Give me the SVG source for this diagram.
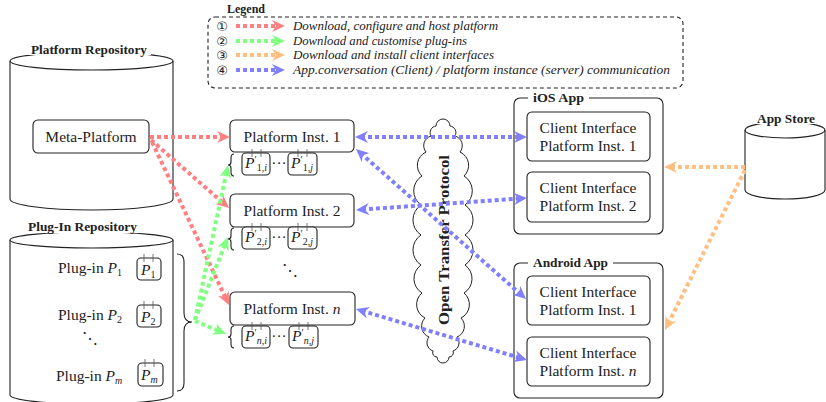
<svg xmlns="http://www.w3.org/2000/svg" width="826" height="402" viewBox="0 0 826 402" font-family="'Liberation Serif', 'DejaVu Serif', serif">
<defs>
<style>
.box{fill:#fff;stroke:#222;stroke-width:1.1}
.cyl{fill:none;stroke:#222;stroke-width:1.1}
.lbl{font-family:'Liberation Serif','DejaVu Serif',serif;font-size:15.5px;fill:#222}
.it{font-style:italic}
.sm{font-size:10px}
.ttl{font-family:'Liberation Serif','DejaVu Serif',serif;font-size:11.5px;font-weight:bold;fill:#222}
.lg{font-family:'Liberation Serif','DejaVu Serif',serif;font-size:11.5px;font-style:italic;fill:#222}
.num{font-family:'DejaVu Sans',sans-serif;font-size:13px;fill:#222}
.tick{stroke:#555;stroke-width:0.8}
.brace{fill:none;stroke:#222;stroke-width:1.1}
.c{fill:none;stroke-width:4;stroke-dasharray:4 3}
.r{stroke:#ff8080}.g{stroke:#80ff80}.o{stroke:#ffbf80}.b{stroke:#8080ff}
</style>
<marker id="mr" viewBox="0 0 13 12" refX="7" refY="6" markerWidth="13" markerHeight="12" markerUnits="userSpaceOnUse" orient="auto-start-reverse"><path d="M0,0 L13,6 L0,12 L4,6 z" fill="#ff8080"/></marker>
<marker id="mg" viewBox="0 0 13 12" refX="7" refY="6" markerWidth="13" markerHeight="12" markerUnits="userSpaceOnUse" orient="auto-start-reverse"><path d="M0,0 L13,6 L0,12 L4,6 z" fill="#80ff80"/></marker>
<marker id="mo" viewBox="0 0 13 12" refX="7" refY="6" markerWidth="13" markerHeight="12" markerUnits="userSpaceOnUse" orient="auto-start-reverse"><path d="M0,0 L13,6 L0,12 L4,6 z" fill="#ffbf80"/></marker>
<marker id="mb" viewBox="0 0 13 12" refX="7" refY="6" markerWidth="13" markerHeight="12" markerUnits="userSpaceOnUse" orient="auto-start-reverse"><path d="M0,0 L13,6 L0,12 L4,6 z" fill="#8080ff"/></marker>
</defs>

<g id="legend">
<rect x="208" y="17" width="475" height="71" rx="7" fill="none" stroke="#222" stroke-width="1.1" stroke-dasharray="4 3"/>
<text class="ttl" x="227" y="13" textLength="38" lengthAdjust="spacingAndGlyphs">Legend</text>
<text class="num" x="222" y="31" text-anchor="middle">①</text>
<text class="num" x="222" y="46" text-anchor="middle">②</text>
<text class="num" x="222" y="60" text-anchor="middle">③</text>
<text class="num" x="222" y="75" text-anchor="middle">④</text>
<line class="c r" x1="236" y1="26" x2="279" y2="26" marker-end="url(#mr)"/>
<line class="c g" x1="236" y1="41" x2="279" y2="41" marker-end="url(#mg)"/>
<line class="c o" x1="236" y1="55" x2="279" y2="55" marker-end="url(#mo)"/>
<line class="c b" x1="236" y1="70" x2="279" y2="70" marker-end="url(#mb)"/>
<text class="lg" x="293" y="30" textLength="205" lengthAdjust="spacingAndGlyphs">Download, configure and host platform</text>
<text class="lg" x="293" y="45" textLength="174" lengthAdjust="spacingAndGlyphs">Download and customise plug-ins</text>
<text class="lg" x="293" y="59" textLength="201" lengthAdjust="spacingAndGlyphs">Download and install client interfaces</text>
<text class="lg" x="293" y="74" textLength="377" lengthAdjust="spacingAndGlyphs">App.conversation (Client) / platform instance (server) communication</text>
</g>

<g id="platform-repository">
<path class="cyl" d="M10,61 L10,199 A81.5,11 0 0 0 173,199 L173,61"/>
<ellipse class="cyl" cx="91.5" cy="61" rx="81.5" ry="9"/>
<rect x="27" y="43" width="124" height="12" fill="#fff"/>
<text class="ttl" x="89" y="54" text-anchor="middle" textLength="116" lengthAdjust="spacingAndGlyphs">Platform Repository</text>
</g>

<g id="meta-platform">
<rect class="box" x="33" y="120" width="116" height="33" rx="5"/>
<text class="lbl" x="91" y="142" text-anchor="middle">Meta-Platform</text>
</g>

<g id="plugin-repository">
<path class="cyl" d="M10,240 L10,395 A81.5,9 0 0 0 173,395 L173,240"/>
<ellipse class="cyl" cx="91.5" cy="240" rx="81.5" ry="8"/>
<rect x="24" y="221" width="118" height="12" fill="#fff"/>
<text class="ttl" x="82.5" y="231" text-anchor="middle" textLength="109" lengthAdjust="spacingAndGlyphs">Plug-In Repository</text>
<text class="lbl" x="58" y="273">Plug-in <tspan class="it">P</tspan><tspan class="sm" dy="3">1</tspan></text>
<text class="lbl" x="58" y="320">Plug-in <tspan class="it">P</tspan><tspan class="sm" dy="3">2</tspan></text>
<text class="lbl" x="90" y="344" text-anchor="middle">⋱</text>
<text class="lbl" x="56" y="381">Plug-in <tspan class="it">P</tspan><tspan class="sm it" dy="3">m</tspan></text>
<rect class="box" x="137" y="258" width="24" height="22" rx="4"/>
<line class="tick" x1="144" y1="254" x2="144" y2="262"/><line class="tick" x1="153" y1="254" x2="153" y2="262"/>
<text class="lbl" x="141" y="275"><tspan class="it">P</tspan><tspan class="sm" dy="3">1</tspan></text>
<rect class="box" x="137" y="305" width="24" height="22" rx="4"/>
<line class="tick" x1="144" y1="301" x2="144" y2="309"/><line class="tick" x1="153" y1="301" x2="153" y2="309"/>
<text class="lbl" x="141" y="322"><tspan class="it">P</tspan><tspan class="sm" dy="3">2</tspan></text>
<rect class="box" x="138" y="363" width="25" height="23" rx="4"/>
<line class="tick" x1="145" y1="359" x2="145" y2="367"/><line class="tick" x1="154" y1="359" x2="154" y2="367"/>
<text class="lbl" x="141" y="380"><tspan class="it">P</tspan><tspan class="sm it" dy="3">m</tspan></text>
<path class="brace" d="M177,254 Q184,254 184,262 L184,313 Q184,322 192,322 Q184,322 184,331 L184,383 Q184,391 177,391"/>
</g>

<g id="platform-inst-1">
<rect class="box" x="230" y="120" width="124" height="32" rx="5"/>
<text class="lbl" x="292" y="142" text-anchor="middle">Platform Inst. 1</text>
<path class="brace" d="M234,154 Q231,154 231,158 L231,162 Q231,165 228,165 Q231,165 231,168 L231,172 Q231,176 234,176"/>
<rect class="box" x="242" y="153" width="28" height="22" rx="4"/>
<line class="tick" x1="252" y1="149" x2="252" y2="157"/><line class="tick" x1="261" y1="149" x2="261" y2="157"/>
<text class="lbl" x="245" y="168"><tspan class="it">P</tspan><tspan class="sm" dy="-5">′</tspan><tspan class="sm" dy="8">1,<tspan class="it">i</tspan></tspan></text>
<text class="lbl" x="279" y="168" text-anchor="middle">···</text>
<rect class="box" x="288" y="153" width="29" height="22" rx="4"/>
<line class="tick" x1="298" y1="149" x2="298" y2="157"/><line class="tick" x1="307" y1="149" x2="307" y2="157"/>
<text class="lbl" x="291" y="168"><tspan class="it">P</tspan><tspan class="sm" dy="-5">′</tspan><tspan class="sm" dy="8">1,<tspan class="it">j</tspan></tspan></text>
</g>

<g id="platform-inst-2">
<rect class="box" x="230" y="194" width="124" height="33" rx="5"/>
<text class="lbl" x="292" y="216" text-anchor="middle">Platform Inst. 2</text>
<path class="brace" d="M234,228 Q231,228 231,232 L231,236 Q231,239 228,239 Q231,239 231,242 L231,246 Q231,250 234,250"/>
<rect class="box" x="242" y="227" width="28" height="22" rx="4"/>
<line class="tick" x1="252" y1="223" x2="252" y2="231"/><line class="tick" x1="261" y1="223" x2="261" y2="231"/>
<text class="lbl" x="245" y="242"><tspan class="it">P</tspan><tspan class="sm" dy="-5">′</tspan><tspan class="sm" dy="8">2,<tspan class="it">i</tspan></tspan></text>
<text class="lbl" x="279" y="242" text-anchor="middle">···</text>
<rect class="box" x="288" y="227" width="29" height="22" rx="4"/>
<line class="tick" x1="298" y1="223" x2="298" y2="231"/><line class="tick" x1="307" y1="223" x2="307" y2="231"/>
<text class="lbl" x="291" y="242"><tspan class="it">P</tspan><tspan class="sm" dy="-5">′</tspan><tspan class="sm" dy="8">2,<tspan class="it">j</tspan></tspan></text>
</g>

<text class="lbl" x="290" y="276" text-anchor="middle">⋱</text>

<g id="platform-inst-n">
<rect class="box" x="230" y="292" width="125" height="33" rx="5"/>
<text class="lbl" x="292" y="314" text-anchor="middle">Platform Inst. <tspan class="it">n</tspan></text>
<path class="brace" d="M234,326 Q231,326 231,330 L231,334 Q231,337 228,337 Q231,337 231,340 L231,344 Q231,348 234,348"/>
<rect class="box" x="242" y="326" width="28" height="22" rx="4"/>
<line class="tick" x1="252" y1="322" x2="252" y2="330"/><line class="tick" x1="261" y1="322" x2="261" y2="330"/>
<text class="lbl" x="245" y="341"><tspan class="it">P</tspan><tspan class="sm" dy="-5">′</tspan><tspan class="sm it" dy="8">n,i</tspan></text>
<text class="lbl" x="279" y="341" text-anchor="middle">···</text>
<rect class="box" x="289" y="326" width="29" height="22" rx="4"/>
<line class="tick" x1="299" y1="322" x2="299" y2="330"/><line class="tick" x1="308" y1="322" x2="308" y2="330"/>
<text class="lbl" x="292" y="341"><tspan class="it">P</tspan><tspan class="sm" dy="-5">′</tspan><tspan class="sm it" dy="8">n,j</tspan></text>
</g>

<g id="open-transfer-protocol">
<path fill="none" stroke="#222" stroke-width="1" d="M450,126 A6.7,6.7 0 0 1 455,136 A10,10 0 0 1 460,152 A14.6,14.6 0 0 1 464,176 A17.4,17.4 0 0 1 465,205 A18,18 0 0 1 465,235 A18,18 0 0 1 465,265 A16.8,16.8 0 0 1 464,293 A15,15 0 0 1 461,318 A11.6,11.6 0 0 1 457,337 A8.8,8.8 0 0 1 453,351 A4.3,4.3 0 0 1 449,357 A6,6 0 0 1 437,357 A4.3,4.3 0 0 1 433,351 A8.8,8.8 0 0 1 429,337 A11.6,11.6 0 0 1 425,318 A15,15 0 0 1 422,293 A16.8,16.8 0 0 1 421,265 A18,18 0 0 1 421,235 A18,18 0 0 1 421,205 A17.4,17.4 0 0 1 422,176 A14.6,14.6 0 0 1 426,152 A10,10 0 0 1 431,136 A6.7,6.7 0 0 1 436,126 A7,7 0 0 1 450,126 Z"/>
<text class="lbl" font-weight="bold" transform="translate(449,240) rotate(-90)" text-anchor="middle" textLength="170" lengthAdjust="spacingAndGlyphs">Open Transfer Protocol</text>
</g>

<g id="ios-app">
<rect class="box" x="514" y="98" width="149" height="136" rx="6"/>
<rect x="528" y="92" width="61" height="12" fill="#fff"/>
<text class="ttl" x="533" y="102" textLength="51" lengthAdjust="spacingAndGlyphs">iOS App</text>
</g>
<g id="ios-client-1">
<rect class="box" x="527" y="112" width="123" height="49" rx="5"/>
<text class="lbl" x="588" y="133" text-anchor="middle">Client Interface</text>
<text class="lbl" x="588" y="151" text-anchor="middle">Platform Inst. 1</text>
</g>
<g id="ios-client-2">
<rect class="box" x="527" y="172" width="123" height="50" rx="5"/>
<text class="lbl" x="588" y="193" text-anchor="middle">Client Interface</text>
<text class="lbl" x="588" y="211" text-anchor="middle">Platform Inst. 2</text>
</g>

<g id="android-app">
<rect class="box" x="514" y="263" width="149" height="135" rx="6"/>
<rect x="528" y="257" width="85" height="12" fill="#fff"/>
<text class="ttl" x="533" y="267" textLength="75" lengthAdjust="spacingAndGlyphs">Android App</text>
</g>
<g id="android-client-1">
<rect class="box" x="527" y="276" width="123" height="49" rx="5"/>
<text class="lbl" x="588" y="297" text-anchor="middle">Client Interface</text>
<text class="lbl" x="588" y="315" text-anchor="middle">Platform Inst. 1</text>
</g>
<g id="android-client-n">
<rect class="box" x="527" y="337" width="123" height="49" rx="5"/>
<text class="lbl" x="588" y="358" text-anchor="middle">Client Interface</text>
<text class="lbl" x="588" y="376" text-anchor="middle">Platform Inst. <tspan class="it">n</tspan></text>
</g>

<g id="app-store">
<path class="cyl" d="M745,130 L745,190 A40,9 0 0 0 825,190 L825,130"/>
<ellipse class="cyl" cx="785" cy="130" rx="40" ry="8"/>
<rect x="753" y="112" width="66" height="12" fill="#fff"/>
<text class="ttl" x="786" y="123" text-anchor="middle" textLength="58" lengthAdjust="spacingAndGlyphs">App Store</text>
</g>

<g id="connectors">
<line class="c r" x1="150" y1="137" x2="224" y2="137" marker-end="url(#mr)"/>
<line class="c r" x1="151" y1="140" x2="224.5" y2="204.1" marker-end="url(#mr)"/>
<line class="c r" x1="152" y1="142" x2="226.4" y2="299.6" marker-end="url(#mr)"/>
<line class="c g" x1="195" y1="320" x2="226.8" y2="170.9" marker-end="url(#mg)"/>
<line class="c g" x1="195" y1="320" x2="225.8" y2="242.6" marker-end="url(#mg)"/>
<line class="c g" x1="195" y1="321" x2="220.5" y2="331.7" marker-end="url(#mg)"/>
<line class="c o" x1="745" y1="167" x2="670" y2="167" marker-end="url(#mo)"/>
<line class="c o" x1="745" y1="170" x2="667.7" y2="324.6" marker-end="url(#mo)"/>
<line class="c b" x1="361" y1="137" x2="521" y2="137" marker-start="url(#mb)" marker-end="url(#mb)"/>
<line class="c b" x1="362" y1="209.6" x2="521" y2="198.4" marker-start="url(#mb)" marker-end="url(#mb)"/>
<line class="c b" x1="360.5" y1="153" x2="521.5" y2="295" marker-start="url(#mb)" marker-end="url(#mb)"/>
<line class="c b" x1="361.7" y1="310.7" x2="521.3" y2="358.3" marker-start="url(#mb)" marker-end="url(#mb)"/>
</g>
</svg>
